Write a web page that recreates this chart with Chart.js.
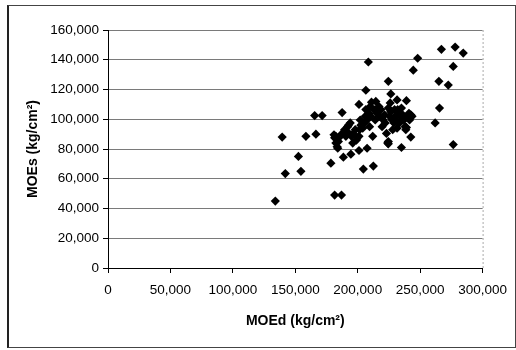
<!DOCTYPE html>
<html>
<head>
<meta charset="utf-8">
<script src="https://cdn.jsdelivr.net/npm/chart.js@4/dist/chart.umd.min.js"></script>
<style>
  body { margin: 0; background: #fff; }
  #frame { position: absolute; left: 7px; top: 5px; width: 506px; height: 341px;
           border: 1px solid #444; border-left: 2px solid #222; }
  #moeChart { position: absolute; left: 0; top: 0; }
</style>
</head>
<body>
<div id="frame"></div>
<canvas id="moeChart" width="516" height="350"></canvas>
<script>
// dynamic modulus (x) vs static modulus (y), kg/cm2
const moed = [
  134000, 139500, 142000, 152500, 154500, 158500, 165500, 166500, 171500, 178500,
  181500, 187000, 187500, 188500, 194500, 201000, 204500, 207500, 212500, 206500,
  208500, 224500, 226500, 231500, 239000, 235000, 242500, 244500, 248000, 262000,
  265000, 265500, 267000, 272500, 276500, 278000, 276500, 284500, 224500, 224500,
  239000, 201000, 211000,
  181000, 181500, 182500, 183500, 184500, 186000, 187500, 189500, 190500, 192000,
  193000, 194000, 195000, 196500, 198000, 199500, 201000, 201500, 202000, 202500,
  204000, 205500, 206000, 206500, 207500, 209000, 209500, 210000, 210500, 212000,
  213000, 214000, 214500, 215500, 217000, 217500, 218500, 219500, 220500, 221500,
  222000, 223000, 224000, 224500, 225500, 226000, 226500, 227500, 228000, 229000,
  229500, 230000, 230500, 231500, 232000, 233000, 233500, 234000, 235000, 236000,
  237000, 238000, 238500, 240000, 241000, 241500, 242500, 243500, 182500, 184000,
  190500, 192500, 196000, 199000
];
const moes = [
  45000, 88000, 63500, 75000, 65000, 88500, 102500, 90000, 102500, 70500,
  49000, 49000, 104500, 74500, 76500, 79000, 66500, 80500, 68500, 119500,
  138500, 125500, 117000, 113000, 112500, 81000, 88000, 133000, 141000, 97500,
  125500, 107500, 147000, 123000, 135500, 148500, 83000, 144500, 85000, 83500,
  94500, 110000, 111500,
  89500, 87500, 84000, 81500, 85000, 88500, 90500, 93000, 88500, 95000,
  90500, 97500, 88500, 90500, 93000, 87500, 88500, 93000, 99500, 96000,
  94000, 97500, 102000, 106500, 99500, 104000, 95000, 108500, 102000, 88500,
  106500, 99500, 112000, 104000, 108500, 102000, 106500, 95000, 99500, 103000,
  97500, 90500, 84000, 107500, 102000, 111000, 105000, 99500, 93000, 97500,
  106500, 102000, 99500, 94000, 106500, 104000, 97500, 102000, 107500, 103000,
  99500, 95000, 93000, 102000, 104000, 99500, 103000, 102000, 88500, 80500,
  91500, 96000, 84000, 86000
];
const xTicks = [0, 50000, 100000, 150000, 200000, 250000, 300000];
const yTicks = [0, 20000, 40000, 60000, 80000, 100000, 120000, 140000, 160000];

const points = moed.map((x, i) => ({ x: x, y: moes[i] }));
const fmt = v => Number(v).toLocaleString('en-US');
const tickFont = { family: 'Liberation Sans, Arial, sans-serif', size: 13.5 };
const titleFont = { family: 'Liberation Sans, Arial, sans-serif', size: 14, weight: 'bold' };

// faint dotted line on the right side of the plot area
const rightEdge = {
  id: 'rightEdge',
  afterDraw(chart) {
    const { ctx, chartArea: a } = chart;
    ctx.save();
    ctx.strokeStyle = '#aaa';
    ctx.lineWidth = 1;
    ctx.setLineDash([2, 2]);
    ctx.beginPath();
    ctx.moveTo(a.right + 0.5, a.top);
    ctx.lineTo(a.right + 0.5, a.bottom);
    ctx.stroke();
    ctx.restore();
  }
};

new Chart(document.getElementById('moeChart'), {
  type: 'scatter',
  data: {
    datasets: [{
      data: points,
      pointStyle: 'rectRot',
      pointRadius: 4.6,
      pointHoverRadius: 4.6,
      backgroundColor: '#000',
      borderColor: '#000',
      borderWidth: 0
    }]
  },
  options: {
    responsive: false,
    animation: false,
    devicePixelRatio: 1,
    layout: { padding: { top: 30, right: 33, bottom: 0, left: 0 } },
    plugins: { legend: { display: false }, tooltip: { enabled: false } },
    scales: {
      x: {
        type: 'linear',
        min: 0, max: 300000,
        afterBuildTicks: s => { s.ticks = xTicks.map(v => ({ value: v })); },
        afterFit: s => { s.height = 82; },
        grid: { drawOnChartArea: false, drawTicks: true, tickLength: 5, tickColor: '#000' },
        border: { color: '#000', width: 1 },
        ticks: { color: '#000', font: tickFont, padding: 9, maxRotation: 0, callback: fmt },
        title: { display: true, text: 'MOEd (kg/cm²)', color: '#000', font: titleFont,
                 padding: { top: 0, bottom: 20 } }
      },
      y: {
        type: 'linear',
        min: 0, max: 160000,
        afterBuildTicks: s => { s.ticks = yTicks.map(v => ({ value: v })); },
        afterFit: s => { s.width = 108; },
        grid: { color: '#7a7a7a', lineWidth: 1, tickLength: 5, tickColor: '#000' },
        border: { color: '#000', width: 1 },
        ticks: { color: '#000', font: tickFont, padding: 4, callback: fmt },
        title: { display: true, text: 'MOEs (kg/cm²)', color: '#000', font: titleFont,
                 padding: { top: 25, bottom: 0 } }
      }
    }
  },
  plugins: [rightEdge]
});
</script>
</body>
</html>
